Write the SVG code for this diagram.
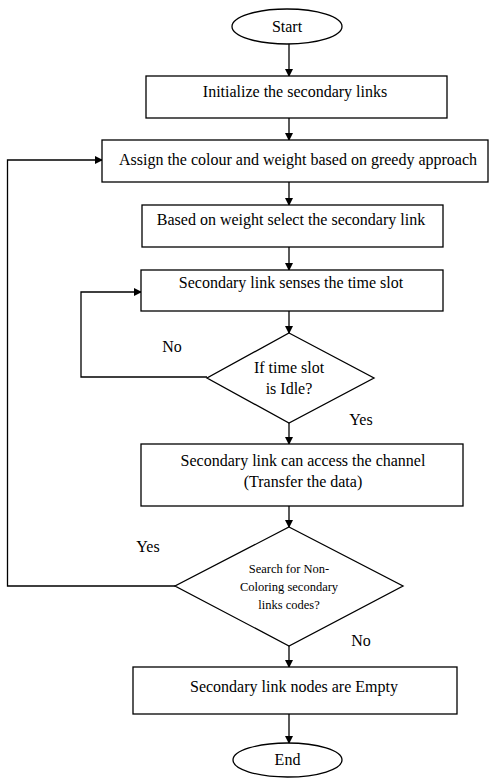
<svg xmlns="http://www.w3.org/2000/svg" width="489" height="778" viewBox="0 0 489 778">
<style>
.s{fill:#fff;stroke:#000;stroke-width:1.3}
.t{font-family:"Liberation Serif","Times New Roman",serif;font-size:16px;fill:#000;text-anchor:middle}
.sm{font-size:12.5px}
.c{fill:none;stroke:#000;stroke-width:1.3}
</style>
<defs>
<marker id="ah" markerWidth="8" markerHeight="8" refX="7" refY="4" orient="auto" markerUnits="userSpaceOnUse">
<path d="M0,0 L8,4 L0,8 Z" fill="#000"/>
</marker>
</defs>
<rect width="489" height="778" fill="#fff"/>
<g id="connectors">
<line class="c" x1="289" y1="44" x2="289" y2="76" marker-end="url(#ah)"/>
<line class="c" x1="289" y1="118" x2="289" y2="140" marker-end="url(#ah)"/>
<line class="c" x1="289" y1="182" x2="289" y2="205" marker-end="url(#ah)"/>
<line class="c" x1="289" y1="247" x2="289" y2="270" marker-end="url(#ah)"/>
<line class="c" x1="289" y1="311" x2="289" y2="333" marker-end="url(#ah)"/>
<polyline class="c" points="207,377 81,377 81,292 141,292" marker-end="url(#ah)"/>
<line class="c" x1="289" y1="423" x2="289" y2="444" marker-end="url(#ah)"/>
<line class="c" x1="289" y1="506" x2="289" y2="527" marker-end="url(#ah)"/>
<polyline class="c" points="175,586 7.5,586 7.5,160 102,160" marker-end="url(#ah)"/>
<line class="c" x1="289" y1="646" x2="289" y2="667" marker-end="url(#ah)"/>
<line class="c" x1="289" y1="714" x2="289" y2="743" marker-end="url(#ah)"/>
<text class="t" x="172" y="352">No</text>
<text class="t" x="361" y="425">Yes</text>
<text class="t" x="148" y="552">Yes</text>
<text class="t" x="361" y="646">No</text>
</g>
<g id="start">
<ellipse class="s" cx="287" cy="26.5" rx="55" ry="17.5"/>
<text class="t" x="287" y="32">Start</text>
</g>
<g id="init">
<rect class="s" x="146" y="76" width="301" height="42"/>
<text class="t" x="295" y="97">Initialize the secondary links</text>
</g>
<g id="assign">
<rect class="s" x="102" y="140" width="386" height="42"/>
<text class="t" x="298" y="165">Assign the colour and weight based on greedy approach</text>
</g>
<g id="select">
<rect class="s" x="142" y="205" width="301" height="42"/>
<text class="t" x="291" y="225">Based on weight select the secondary link</text>
</g>
<g id="senses">
<rect class="s" x="141" y="270" width="302" height="41"/>
<text class="t" x="291" y="288">Secondary link senses the time slot</text>
</g>
<g id="idle">
<polygon class="s" points="289,333 374,378 289,423 207,378"/>
<text class="t" x="289" y="373">If time slot</text>
<text class="t" x="289" y="394">is Idle?</text>
</g>
<g id="access">
<rect class="s" x="141" y="444" width="322" height="62"/>
<text class="t" x="303" y="466">Secondary link can access the channel</text>
<text class="t" x="303" y="487">(Transfer the data)</text>
</g>
<g id="search">
<polygon class="s" points="289,527 403,586 289,646 175,586"/>
<text class="t sm" x="289" y="573">Search for Non-</text>
<text class="t sm" x="289" y="591">Coloring secondary</text>
<text class="t sm" x="289" y="609">links codes?</text>
</g>
<g id="empty">
<rect class="s" x="133" y="667" width="324" height="47"/>
<text class="t" x="294" y="692">Secondary link nodes are Empty</text>
</g>
<g id="end">
<ellipse class="s" cx="287.5" cy="760" rx="54.5" ry="17"/>
<text class="t" x="287.5" y="765">End</text>
</g>
</svg>
